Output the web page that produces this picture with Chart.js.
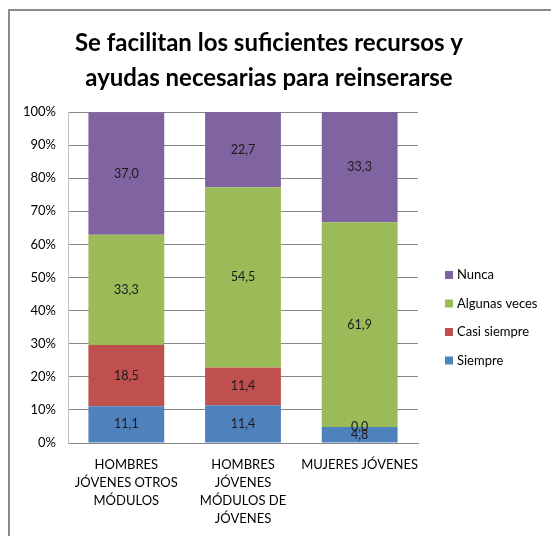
<!DOCTYPE html>
<html><head><meta charset="utf-8">
<script src="https://cdn.jsdelivr.net/npm/chart.js@4/dist/chart.umd.min.js"></script>
<style>html,body{margin:0;padding:0;background:#fff;overflow:hidden}#wrap{width:551px;height:536px;position:relative}</style>
</head><body><div id="wrap"><canvas id="c" width="551" height="536"></canvas></div>
<script>
const titleLines = ["Se facilitan los suficientes recursos y", "ayudas necesarias para reinserarse"];
const categories = [["HOMBRES", "JÓVENES OTROS", "MÓDULOS"], ["HOMBRES", "JÓVENES", "MÓDULOS DE", "JÓVENES"], ["MUJERES JÓVENES"]];
const siempre = [11.1, 11.4, 4.8];
const casiSiempre = [18.5, 11.4, 0.0];
const algunasVeces = [33.3, 54.5, 61.9];
const nunca = [37.0, 22.7, 33.3];
const seriesNames = ["Siempre", "Casi siempre", "Algunas veces", "Nunca"];
const seriesColors = ["#4F81BD", "#C0504D", "#9BBB59", "#8064A2"];
const yTickValues = [0, 10, 20, 30, 40, 50, 60, 70, 80, 90, 100];

const FONT = "Lato, 'Open Sans', sans-serif";

const framePlugin = {
  id: 'frame',
  beforeDraw(chart) {
    const ctx = chart.ctx;
    ctx.save();
    ctx.fillStyle = '#fff';
    ctx.fillRect(0, 0, chart.width, chart.height);
    ctx.strokeStyle = '#8a8a8a';
    ctx.lineWidth = 2;
    ctx.beginPath();
    ctx.moveTo(9, chart.height);
    ctx.lineTo(9, 10);
    ctx.lineTo(chart.width, 10);
    ctx.stroke();
    ctx.restore();
  }
};

const titlePlugin = {
  id: 'titleDraw',
  afterDraw(chart) {
    const ctx = chart.ctx;
    ctx.save();
    ctx.fillStyle = '#000';
    ctx.font = "bold 24px " + FONT;
    ctx.textAlign = 'center';
    ctx.textBaseline = 'alphabetic';
    const cx = 269;
    ctx.fillText(titleLines[0], cx, 51);
    ctx.fillText(titleLines[1], cx, 86);
    ctx.restore();
  }
};

const labelsPlugin = {
  id: 'segLabels',
  afterDatasetsDraw(chart) {
    const ctx = chart.ctx;
    ctx.save();
    ctx.font = "12.5px " + FONT;
    ctx.fillStyle = '#1a1a1a';
    ctx.textAlign = 'center';
    ctx.textBaseline = 'middle';
    chart.data.datasets.forEach((ds, i) => {
      const meta = chart.getDatasetMeta(i);
      meta.data.forEach((bar, j) => {
        const v = ds.data[j];
        const y = (bar.y + bar.base) / 2;
        ctx.fillText(v.toFixed(1).replace('.', ','), bar.x, y);
      });
    });
    ctx.restore();
  }
};

const legendPlugin = {
  id: 'legendDraw',
  afterDraw(chart) {
    const ctx = chart.ctx;
    const area = chart.chartArea;
    ctx.save();
    ctx.font = "13px " + FONT;
    ctx.textBaseline = 'middle';
    ctx.textAlign = 'left';
    const x0 = area.right + 27;
    const yStart = area.top + 163;
    const step = 28.5;
    const order = [3, 2, 1, 0];
    order.forEach((si, k) => {
      const y = yStart + k * step;
      ctx.fillStyle = seriesColors[si];
      ctx.fillRect(x0, y - 4, 8, 8);
      ctx.fillStyle = '#000';
      ctx.fillText(seriesNames[si], x0 + 12, y);
    });
    ctx.restore();
  }
};

const seriesData = [siempre, casiSiempre, algunasVeces, nunca];

new Chart(document.getElementById('c'), {
  type: 'bar',
  data: {
    labels: categories,
    datasets: seriesData.map((d, i) => ({
      label: seriesNames[i],
      data: d,
      backgroundColor: seriesColors[i],
      borderWidth: 0,
      categoryPercentage: 0.65,
      barPercentage: 1.0
    }))
  },
  options: {
    responsive: false,
    animation: false,
    devicePixelRatio: 1,
    layout: { padding: { left: 8, top: 112, right: 133, bottom: 0 } },
    plugins: {
      legend: { display: false },
      title: { display: false },
      tooltip: { enabled: false }
    },
    scales: {
      x: {
        stacked: true,
        grid: { display: false, drawTicks: false },
        border: { display: true, color: '#868686' },
        ticks: {
          color: '#000',
          font: { family: FONT, size: 13, lineHeight: 1.38 },
          padding: 13,
          maxRotation: 0,
          autoSkip: false
        },
        afterFit(scale) { scale.height = 93; }
      },
      y: {
        stacked: true,
        min: 0,
        max: 100,
        afterBuildTicks(scale) { scale.ticks = yTickValues.map(v => ({ value: v })); },
        grid: { color: '#868686', drawTicks: false },
        border: { display: true, color: '#bfbfbf' },
        ticks: {
          color: '#000',
          font: { family: FONT, size: 13 },
          padding: 12,
          callback: v => v + '%'
        },
        afterFit(scale) { scale.width = 60; }
      }
    }
  },
  plugins: [framePlugin, labelsPlugin, titlePlugin, legendPlugin]
});
</script>
</body></html>
